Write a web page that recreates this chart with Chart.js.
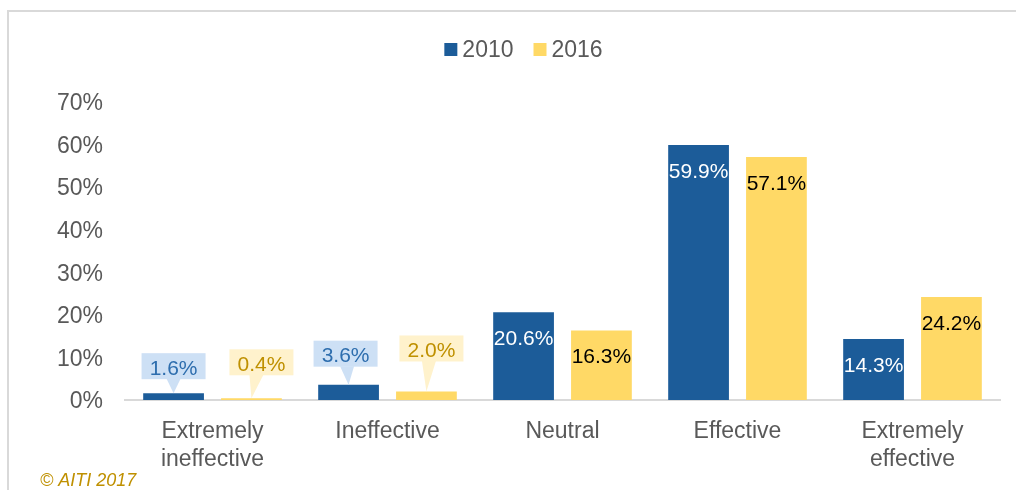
<!DOCTYPE html>
<html>
<head>
<meta charset="utf-8">
<script src="https://cdn.jsdelivr.net/npm/chart.js@4.4.1/dist/chart.umd.min.js"></script>
<style>
  html, body { margin: 0; padding: 0; background: #fff; overflow: hidden; }
  #wrap { position: relative; width: 1016px; height: 490px; }
  /* panel outline, only its top and left edges fall inside the view */
  #frame { position: absolute; left: 7px; top: 10px; width: 1100px; height: 600px;
           border: 2px solid #d9d9d9; box-sizing: border-box; }
  canvas { position: absolute; left: 0; top: 0; }
</style>
</head>
<body>
<div id="wrap">
  <div id="frame"></div>
  <canvas id="chart" width="1016" height="490"></canvas>
</div>
<script>
const CATEGORIES   = [['Extremely', 'ineffective'], 'Ineffective', 'Neutral', 'Effective', ['Extremely', 'effective']];
const SERIES_NAMES = ['2010', '2016'];
const VALUES_2010  = [1.6, 3.6, 20.6, 59.9, 14.3];
const VALUES_2016  = [0.4, 2.0, 16.3, 57.1, 24.2];
const Y_MAX  = 70;
const Y_STEP = 10;
const COPYRIGHT = '\u00a9 AITI 2017';

const FONT = '"Liberation Sans", Arial, sans-serif';
const GREY = '#595959';

// per-series look: bar fill, in-bar label colour, callout fill / text
const STYLE = [
  { bar: '#1c5c99', label: '#ffffff', callFill: '#cde0f5', callText: '#2e6eae' },
  { bar: '#ffd966', label: '#000000', callFill: '#fff2cc', callText: '#bf9000' },
];
// small values get a callout bubble: [dx from bar centre, gap above bar top]
const CALLOUT_NUDGE = { '0-0': [0, 14], '1-0': [10, 23], '0-1': [-3, 18], '1-1': [5, 30] };

const barLabels = {
  id: 'barLabels',
  afterDatasetsDraw(chart) {
    const ctx = chart.ctx;
    ctx.save();
    ctx.font = '21px ' + FONT;
    ctx.textAlign = 'center';
    ctx.textBaseline = 'middle';
    chart.data.datasets.forEach((ds, di) => {
      const st = STYLE[di];
      chart.getDatasetMeta(di).data.forEach((bar, i) => {
        const v = ds.data[i];
        const txt = v.toFixed(1) + '%';
        if (v >= 10) {
          ctx.fillStyle = st.label;
          ctx.fillText(txt, bar.x, bar.y + 27);
          return;
        }
        const [dx, gap] = CALLOUT_NUDGE[di + '-' + i] || [0, 18];
        const w = 64, h = 26;
        const cx = bar.x + dx;
        const bottom = bar.y - gap;
        const top = bottom - h;
        const mid = (cx + bar.x) / 2;
        ctx.fillStyle = st.callFill;
        ctx.fillRect(cx - w / 2, top, w, h);
        ctx.beginPath();
        ctx.moveTo(mid - 7, bottom - 0.5);
        ctx.lineTo(bar.x, bar.y);
        ctx.lineTo(mid + 7, bottom - 0.5);
        ctx.closePath();
        ctx.fill();
        ctx.fillStyle = st.callText;
        ctx.fillText(txt, cx, top + h / 2 + 3);
      });
    });
    ctx.restore();
  }
};

// legend row + copyright line
const extras = {
  id: 'extras',
  afterDraw(chart) {
    const ctx = chart.ctx;
    ctx.save();
    ctx.font = '23px ' + FONT;
    ctx.textBaseline = 'middle';
    const box = 13, boxGap = 5, itemGap = 20;
    const items = chart.data.datasets.map((ds, di) => ({ text: ds.label, color: STYLE[di].bar, w: ctx.measureText(ds.label).width }));
    const total = items.reduce((s, it) => s + box + boxGap + it.w, 0) + itemGap * (items.length - 1);
    let x = 523.5 - total / 2;
    const y = 49.5;
    items.forEach(it => {
      ctx.fillStyle = it.color;
      ctx.fillRect(x, y - box / 2, box, box);
      ctx.fillStyle = GREY;
      ctx.fillText(it.text, x + box + boxGap, y + 1);
      x += box + boxGap + it.w + itemGap;
    });

    ctx.font = 'italic 18px ' + FONT;
    ctx.textBaseline = 'alphabetic';
    ctx.fillStyle = '#bf9000';
    ctx.fillText(COPYRIGHT, 40, 486);
    ctx.restore();
  }
};

new Chart(document.getElementById('chart'), {
  type: 'bar',
  data: {
    labels: CATEGORIES,
    datasets: [
      { label: SERIES_NAMES[0], data: VALUES_2010, backgroundColor: STYLE[0].bar,
        categoryPercentage: 0.89, barPercentage: 0.78 },
      { label: SERIES_NAMES[1], data: VALUES_2016, backgroundColor: STYLE[1].bar,
        categoryPercentage: 0.89, barPercentage: 0.78 },
    ],
  },
  options: {
    responsive: false,
    animation: false,
    layout: { padding: { top: 102, right: 16, bottom: 0, left: 0 } },
    plugins: {
      legend: { display: false },
      tooltip: { enabled: false },
    },
    scales: {
      x: {
        grid: { display: false, drawTicks: false },
        border: { color: '#d9d9d9', width: 2 },
        ticks: { color: GREY, font: { size: 23, family: FONT }, padding: 18, maxRotation: 0, autoSkip: false },
        afterFit: (s) => { s.height = 90; },
      },
      y: {
        min: 0,
        max: Y_MAX,
        grid: { display: false, drawTicks: false },
        border: { display: false },
        ticks: { stepSize: Y_STEP, padding: 22, labelOffset: 2, color: GREY, font: { size: 23, family: FONT },
                 callback: (v) => v + '%' },
        afterFit: (s) => { s.width = 125; },
      },
    },
  },
  plugins: [barLabels, extras],
});
</script>
</body>
</html>
